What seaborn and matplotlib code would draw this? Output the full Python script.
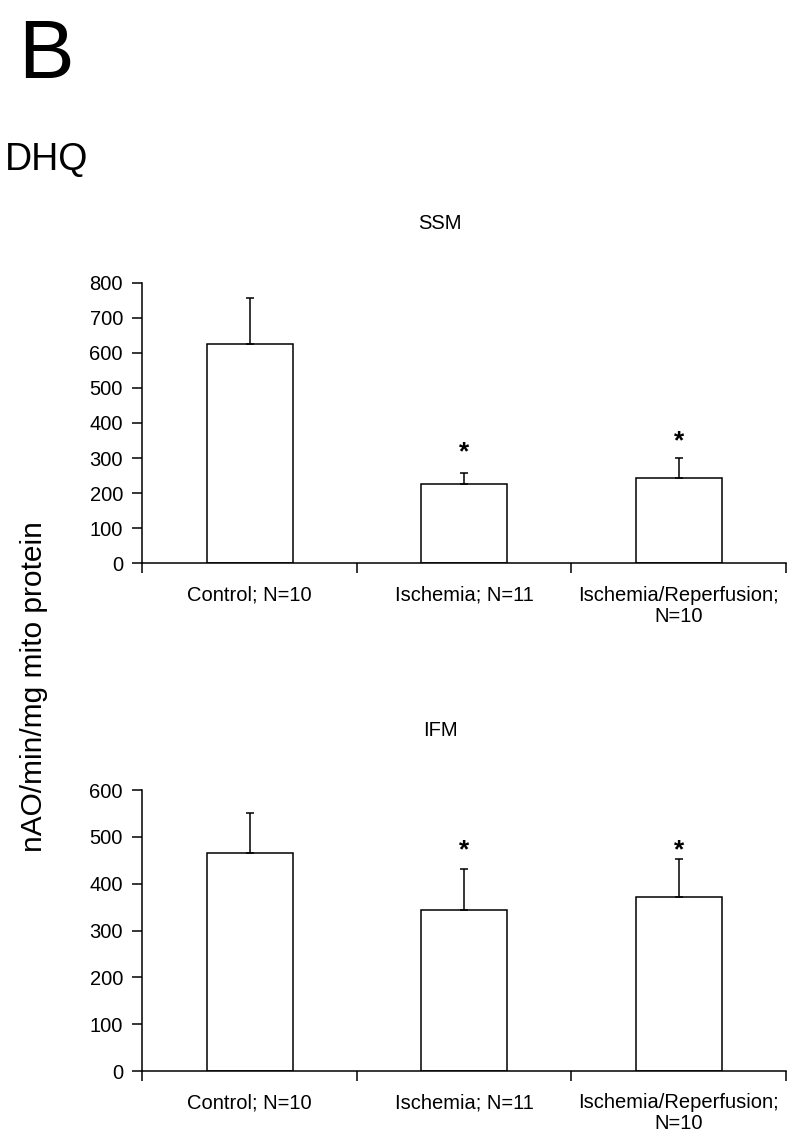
import numpy as np
import seaborn as sns
import pandas as pd
import matplotlib.pyplot as plt

groups = ['Control; N=10', 'Ischemia; N=11', 'Ischemia/Reperfusion;\nN=10']

ssm_mean = [625, 225, 243]
ssm_err = [130, 32, 58]
ssm_star = [None, 315, 347]

ifm_mean = [465, 344, 371]
ifm_err = [87, 87, 81]
ifm_star = [None, 472, 472]

sns.set_style('ticks')
plt.rcParams['font.family'] = ['Liberation Sans', 'DejaVu Sans']
plt.rcParams['text.color'] = 'black'
plt.rcParams['xtick.color'] = 'black'
plt.rcParams['ytick.color'] = 'black'
plt.rcParams['axes.edgecolor'] = 'black'

fig = plt.figure(figsize=(8, 11.44), dpi=100)
ax1 = fig.add_axes([0.178, 0.5076, 0.8045, 0.2453])
ax2 = fig.add_axes([0.178, 0.0638, 0.8045, 0.2456])


def panel(ax, mean, err, star, title, ymax):
    df = pd.DataFrame({'group': groups, 'value': mean})
    sns.barplot(data=df, x='group', y='value', color='white', saturation=1,
                edgecolor='black', linewidth=1.1, width=0.4, errorbar=None, ax=ax)
    ax.errorbar(range(len(mean)), mean, yerr=[np.zeros(len(err)), err], fmt='none',
                ecolor='black', elinewidth=1.1, capsize=3, capthick=1.1)
    for i, s in enumerate(star):
        if s is not None:
            ax.text(i, s, '*', ha='center', va='center', fontsize=19, fontweight='bold')
    ax.set_xlim(-0.5, 2.5)
    ax.set_ylim(0, ymax)
    ax.set_yticks(range(0, ymax + 1, 100))
    ax.set_xticks([-0.5, 0.5, 1.5, 2.5], minor=True)
    ax.tick_params(axis='x', which='major', length=0, pad=16, labelsize=14.5)
    ax.tick_params(axis='x', which='minor', length=7, width=1.1, direction='out')
    ax.tick_params(axis='y', length=7, width=1.1, direction='out', pad=7, labelsize=14.5)
    for lab in ax.get_xticklabels():
        lab.set_linespacing(1.15)
    ax.set_xlabel('')
    ax.set_ylabel('')
    sns.despine(ax=ax)
    ax.spines['left'].set_linewidth(1.1)
    ax.spines['bottom'].set_linewidth(1.1)
    ax.text(0.4625, 1.193, title, transform=ax.transAxes, ha='center',
            va='baseline', fontsize=14.5)


panel(ax1, ssm_mean, ssm_err, ssm_star, 'SSM', 800)
panel(ax2, ifm_mean, ifm_err, ifm_star, 'IFM', 600)

fig.text(0.0225, 0.9318, 'B', fontsize=60, va='baseline', ha='left')
fig.text(0.006, 0.8514, 'DHQ', fontsize=27, va='baseline', ha='left')
fig.text(0.043, 0.3995, 'nAO/min/mg mito protein', rotation=90, fontsize=21.5,
         ha='center', va='center')

fig.savefig('out.png', dpi=100)
